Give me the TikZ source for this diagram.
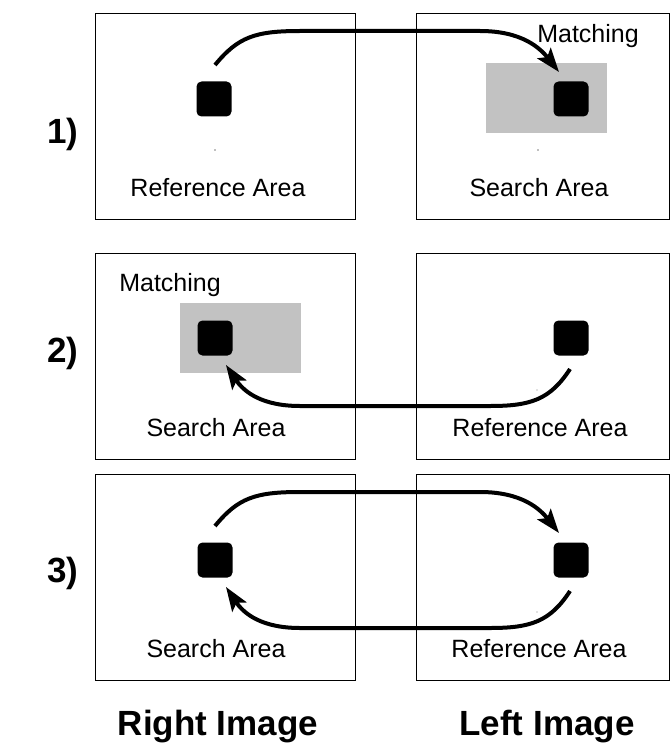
\documentclass[tikz,border=0pt]{standalone}
\usepackage{fontspec}
\setmainfont{Liberation Sans}
\usetikzlibrary{arrows.meta}
\definecolor{areagray}{RGB}{194,194,194}
\begin{document}
\begin{tikzpicture}[x=1pt,y=-1pt,
  panel/.style={draw=black, line width=1.4pt, minimum width=260pt, minimum height=206pt, inner sep=0pt, anchor=north west},
  rpanel/.style={panel, minimum width=253pt},
  blob/.style={fill=black, rounded corners=5pt, minimum size=35pt, inner sep=0pt},
  searchbox/.style={fill=areagray, inner sep=0pt, anchor=north west},
  lbl/.style={font=\fontsize{25}{30}\selectfont, anchor=base, inner sep=0pt},
  big/.style={font=\fontsize{35}{40}\selectfont\bfseries, anchor=base, inner sep=0pt},
  flow/.style={line width=4pt, -{Stealth[length=24pt,width=17pt,inset=5pt]}},
  speck/.style={fill=gray}]
\useasboundingbox (0,0) rectangle (670,749);

% ---------- row 1 ----------
\node[panel]  (L1) at (95,13) {};
\node[rpanel] (R1) at (416,13) {};
\node[searchbox, minimum width=121pt, minimum height=70pt] (G1) at (486,63) {};
\node[blob] (bL1) at (214,99) {};
\node[blob] (bR1) at (571,99) {};
\fill[speck] (215,150) circle (0.8pt);
\fill[speck] (538,150) circle (0.8pt);
\node[lbl] (t1a) at (218,196) {Reference Area};
\node[lbl] (t1b) at (539,196) {Search Area};
\node[lbl] (m1) at (588,43) {Matching};
\node[big] (n1) at (63,143) {1)};
\coordinate (a1s) at (215,65);
\coordinate (a1e) at (559,72);
\draw[flow] (a1s) .. controls (238,37) and (255,31) .. (300,31) -- (480,31) .. controls (522,31) and (540,48) .. (a1e);

% ---------- row 2 ----------
\node[panel]  (L2) at (95,253) {};
\node[rpanel] (R2) at (416,253) {};
\node[searchbox, minimum width=121pt, minimum height=70pt] (G2) at (180,303) {};
\node[blob] (bL2) at (215,338) {};
\node[blob] (bR2) at (571,338) {};
\fill[speck] (537,390) circle (0.7pt);
\node[lbl] (t2a) at (216,436) {Search Area};
\node[lbl] (t2b) at (540,436) {Reference Area};
\node[lbl] (m2) at (170,291) {Matching};
\node[big] (n2) at (63,362) {2)};
\coordinate (a2s) at (570,369);
\coordinate (a2e) at (226,365);
\draw[flow] (a2s) .. controls (550,400) and (530,406) .. (490,406) -- (300,406) .. controls (262,406) and (244,392) .. (a2e);

% ---------- row 3 ----------
\node[panel]  (L3) at (95,474) {};
\node[rpanel] (R3) at (416,474) {};
\node[blob] (bL3) at (215,560) {};
\node[blob] (bR3) at (571,560) {};
\fill[speck] (537,612) circle (0.7pt);
\node[lbl] (t3a) at (216,657) {Search Area};
\node[lbl] (t3b) at (539,657) {Reference Area};
\node[big] (n3) at (63,582) {3)};
\coordinate (a3s) at (215,526);
\coordinate (a3e) at (559,533);
\draw[flow] (a3s) .. controls (238,498) and (255,492) .. (300,492) -- (480,492) .. controls (522,492) and (540,509) .. (a3e);
\coordinate (a4s) at (570,591);
\coordinate (a4e) at (226,587);
\draw[flow] (a4s) .. controls (550,622) and (530,628) .. (490,628) -- (300,628) .. controls (262,628) and (244,614) .. (a4e);

% ---------- captions ----------
\node[big] (c1) at (218,735) {Right Image};
\node[big] (c2) at (547,735) {Left Image};
\end{tikzpicture}
\end{document}
